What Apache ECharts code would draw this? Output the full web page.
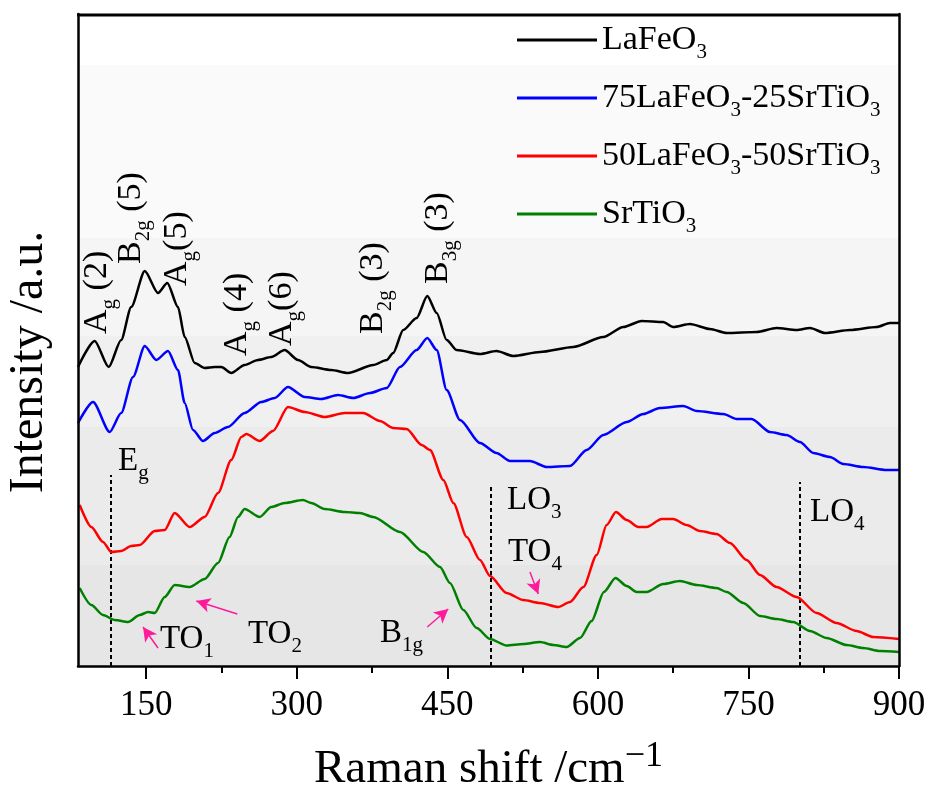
<!DOCTYPE html>
<html>
<head>
<meta charset="UTF-8">
<title>Raman spectra</title>
<script src="https://cdn.jsdelivr.net/npm/echarts@6/dist/echarts.min.js"></script>
<style>
  html, body { margin: 0; padding: 0; background: #fff; }
  #main { width: 935px; height: 794px; }
</style>
</head>
<body>
<div id="main"></div>
<script>
// Raman shift (cm-1) / intensity (a.u.) pairs
var lafeo3 = [[82,299],[98.6,325],[112.6,299],[125,326],[135,359],[148.5,395],[161.7,373],[171,383],[181.6,359],[188.3,329],[198.3,303],[208.2,298],[218.2,299],[224.8,299],[234.7,293],[248,301],[261.3,306],[274.6,309],[287.9,316],[301.2,306],[314.4,299],[334.4,296],[351,293],[376.2,301],[389.6,306],[396,313],[406,336],[419.4,348],[430,370],[439.4,353],[449.3,326],[459.3,316],[482.5,312],[499,315],[515.7,310],[542.3,314],[575.5,319],[605.4,329],[625.3,339],[643.6,345],[665,344],[675,339],[691.7,342],[711.6,337],[728.3,333],[758.2,334],[778,338],[798,336],[811.3,338],[826.3,333],[851.2,336],[877.8,339],[891,343],[900,343]];
var lfo75 = [[82,243],[97,264],[113.6,234],[125,253],[136.8,289],[148.5,320],[160,306],[171.7,315],[181.6,296],[188.3,263],[196.6,236],[206.5,225],[218.2,233],[231.4,239],[248,253],[264.6,264],[278,268],[291.2,279],[307.9,269],[324.4,267],[341,271],[356.3,268],[372.9,273],[389.6,278],[402.8,299],[419.4,316],[430,328],[439.4,316],[449.3,276],[462.6,246],[482.5,223],[499,213],[512.4,205],[532.3,205],[549,199],[572.2,200],[588.8,216],[605.4,231],[628.7,244],[645.2,252],[661.8,258],[685,260],[698.5,255],[725,252],[738.3,247],[753.2,247],[771.4,234],[788,231],[801.3,224],[814.6,213],[831.2,209],[844.5,202],[864.4,199],[887.7,196],[900,196]];
var lfo50 = [[83.7,161],[95.3,139],[106.9,124],[115.2,114],[125,115],[135,120],[143.5,121],[158.4,135],[168.4,136],[178.3,153],[193.3,139],[208.2,149],[221.5,173],[234.7,206],[244.7,229],[249.7,232],[263,225],[276.3,235],[291.2,259],[307.9,254],[327.8,249],[347.7,253],[366.2,253],[382.9,245],[396,238],[409.5,237],[424.4,221],[432.7,216],[446,186],[456,163],[469.3,129],[482.5,106],[492.5,90],[509,73],[525.6,66],[542.3,63],[560.5,59],[572.2,64],[585.5,79],[598.8,111],[608.7,141],[618,154],[628.7,146],[640.2,139],[648.6,139],[663.5,147],[675,147],[688.4,141],[701.7,135],[718.3,132],[731.6,123],[748.2,106],[761.5,91],[778,79],[798,69],[817.9,53],[837.8,43],[857.7,35],[874.3,29],[900,27]];
var srtio3 = [[83.7,78],[95.3,61],[106.9,51],[118.6,46],[131.9,44],[143.5,51],[151.8,54],[158.4,53],[168.4,69],[178.3,81],[193.3,79],[208.2,87],[221.5,103],[233,129],[241.4,149],[248,157],[263,149],[274.6,159],[287.9,163],[306.2,166],[314.4,163],[327.8,157],[347.7,154],[362.9,153],[376.2,149],[402.8,134],[426,114],[442.7,99],[452.6,83],[465.9,56],[479.2,38],[492.5,27],[509,20.5],[525.6,22],[542.3,24],[555.6,21],[568.9,19],[582.2,28],[593.7,45],[606,74],[617.5,88],[628.7,80],[638.6,74],[648.6,74],[665,82],[681.8,85],[698.5,81],[718.3,78],[728.3,74],[744.9,63],[761.5,50],[778,47],[794.6,44],[811.3,35],[827.9,28],[847.8,21],[864.4,18],[881,15],[900,14]];

var names = ['LaFeO{s|3}', '75LaFeO{s|3}-25SrTiO{s|3}', '50LaFeO{s|3}-50SrTiO{s|3}', 'SrTiO{s|3}'];
var colors = ['#000000', '#0000ff', '#ff0000', '#008000'];
var majorTicks = [150, 300, 450, 600, 750, 900];
var minorTicks = [225, 375, 525, 675, 825];
// dashed marker lines: [position, top of line]
var modeLines = [[115, 191], [493, 181], [801, 184]];
// pink arrows: [tail, head]
var arrows = [[[161.7, 18], [146.8, 39]], [[240.7, 52], [199.9, 65]], [[430, 39], [450.9, 57]], [[532.3, 94], [540.6, 72]]];
// background shading bands (intensity ranges); above 601 stays white
var bands = [[428, 601, '#fafafa'], [330, 428, '#f5f5f5'], [239, 330, '#f0f0f0'], [101, 239, '#ebebeb'], [0, 101, '#e6e6e6']];

var FONT = 'Liberation Serif';
var subRich = {
  s: { fontSize: 21, fontFamily: FONT, verticalAlign: 'bottom', lineHeight: 46, color: '#000' },
  sup: { fontSize: 36, fontFamily: FONT, verticalAlign: 'top', lineHeight: 62, color: '#000' }
};

var GRID = { left: 78, right: 36, top: 14, bottom: 128 };
var W = 935;

var myChart = echarts.init(document.getElementById('main'));

var seriesData = [lafeo3, lfo75, lfo50, srtio3];
var series = seriesData.map(function (d, i) {
  return {
    name: names[i],
    type: 'line',
    data: d,
    showSymbol: false,
    symbol: 'none',
    smooth: 0.25,
    smoothMonotone: 'x',
    lineStyle: { color: colors[i], width: 2.5 },
    itemStyle: { color: colors[i] },
    z: 5
  };
});

series[0].markArea = {
  silent: true,
  itemStyle: { borderWidth: 0 },
  data: bands.map(function (b) {
    return [{ yAxis: b[0], itemStyle: { color: b[2] } }, { yAxis: b[1] }];
  }),
  z: 1
};
series[3].markLine = {
  silent: true,
  symbol: 'none',
  label: { show: false },
  lineStyle: { color: '#000', type: [4, 3], width: 2 },
  data: modeLines.map(function (m) {
    return [{ coord: [m[0], 0] }, { coord: [m[0], m[1]] }];
  })
};
series.push({
  type: 'line',
  data: [],
  markLine: {
    silent: true,
    symbol: ['none', 'arrow'],
    symbolSize: [11, 14],
    label: { show: false },
    lineStyle: { color: '#ff1a9c', type: 'solid', width: 1.5 },
    data: arrows.map(function (a) {
      return [{ coord: a[0] }, { coord: a[1] }];
    })
  }
});

function peakLabel(x, y, txt) {
  return {
    type: 'text', x: x, y: y, rotation: Math.PI / 2, z: 20,
    style: { text: txt, fontSize: 34, fontFamily: FONT, fill: '#000', align: 'left', verticalAlign: 'middle', rich: subRich }
  };
}
function modeLabel(x, y, txt) {
  return {
    type: 'text', x: x, y: y, z: 20,
    style: { text: txt, fontSize: 33, fontFamily: FONT, fill: '#000', align: 'left', verticalAlign: 'middle', rich: subRich }
  };
}

var frameLine = { show: true, onZero: false, lineStyle: { color: '#000', width: 2.5 } };

var option = {
  backgroundColor: '#fff',
  animation: false,
  grid: {
    left: GRID.left, right: GRID.right, top: GRID.top, bottom: GRID.bottom,
    containLabel: false, outerBoundsMode: 'none'
  },
  legend: {
    orient: 'vertical',
    left: 512,
    top: 18,
    icon: 'rect',
    itemWidth: 80,
    itemHeight: 3,
    itemGap: 18,
    data: names,
    formatter: function (n) { return n; },
    textStyle: { fontSize: 34, fontFamily: FONT, color: '#000', rich: subRich }
  },
  xAxis: [{
    type: 'value',
    min: 82, max: 900,
    z: 10,
    name: 'Raman shift /cm{sup|−1}',
    nameLocation: 'middle',
    nameGap: 73,
    nameTextStyle: { fontSize: 47, fontFamily: FONT, color: '#000', rich: subRich },
    axisLine: frameLine,
    axisTick: { show: true, inside: false, length: 13, customValues: majorTicks, lineStyle: { color: '#000', width: 2 } },
    axisLabel: { customValues: majorTicks, margin: 22, fontSize: 35, fontFamily: FONT, color: '#000' },
    splitLine: { show: false }
  }, {
    type: 'value',
    min: 82, max: 900,
    position: 'bottom',
    z: 10,
    axisLine: { show: false, onZero: false },
    axisTick: { show: true, length: 7, customValues: minorTicks, lineStyle: { color: '#000', width: 2 } },
    axisLabel: { show: false },
    splitLine: { show: false }
  }],
  yAxis: [{
    type: 'value',
    min: 0, max: 652,
    z: 10,
    name: 'Intensity /a.u.',
    nameLocation: 'middle',
    nameGap: 25,
    nameTextStyle: { fontSize: 48, fontFamily: FONT, color: '#000', padding: [0, 44, 0, 0] },
    axisLine: frameLine,
    axisTick: { show: false },
    axisLabel: { show: false },
    splitLine: { show: false }
  }, {
    type: 'value',
    min: 0, max: 652,
    position: 'right',
    z: 10,
    axisLine: frameLine,
    axisTick: { show: false },
    axisLabel: { show: false },
    splitLine: { show: false }
  }],
  series: series,
  graphic: [
    {
      // top edge of the plot frame
      type: 'line', z: 50, silent: true,
      shape: { x1: GRID.left - 1, y1: GRID.top + 1, x2: W - GRID.right + 1, y2: GRID.top + 1 },
      style: { stroke: '#000', lineWidth: 3 }
    },
    peakLabel(97, 334, 'A{s|g} (2)'),
    peakLabel(131, 264, 'B{s|2g} (5)'),
    peakLabel(177, 286, 'A{s|g}(5)'),
    peakLabel(237, 356, 'A{s|g} (4)'),
    peakLabel(282, 346, 'A{s|g}(6)'),
    peakLabel(373, 334, 'B{s|2g} (3)'),
    peakLabel(438, 284, 'B{s|3g} (3)'),
    modeLabel(118, 461, 'E{s|g}'),
    modeLabel(160, 639, 'TO{s|1}'),
    modeLabel(248, 634, 'TO{s|2}'),
    modeLabel(380, 633, 'B{s|1g}'),
    modeLabel(507, 500, 'LO{s|3}'),
    modeLabel(508, 552, 'TO{s|4}'),
    modeLabel(810, 512, 'LO{s|4}')
  ]
};

myChart.setOption(option);
</script>
</body>
</html>
